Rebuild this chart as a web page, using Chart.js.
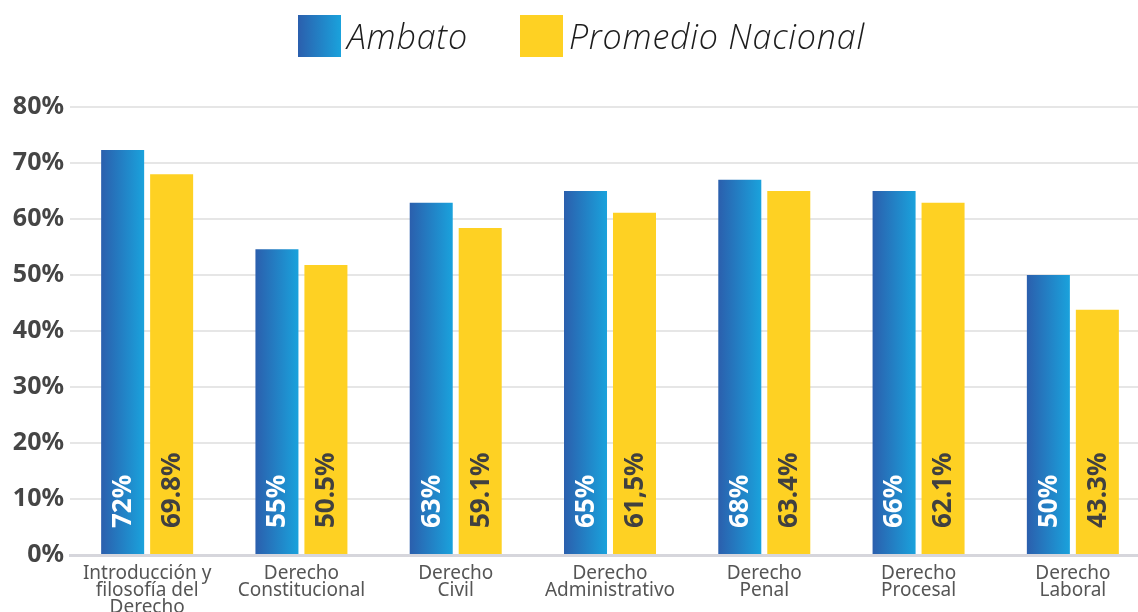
<!DOCTYPE html>
<html lang="es">
<head>
<meta charset="utf-8">
<title>Ambato vs Promedio Nacional</title>
<script src="https://cdn.jsdelivr.net/npm/chart.js@4.4.1/dist/chart.umd.min.js"></script>
<style>
  html, body { margin: 0; padding: 0; background: #fff; overflow: hidden; }
  #wrap { position: relative; width: 1138px; height: 612px; overflow: hidden; }
  #chart { position: absolute; left: 0; top: 0; }
  .legend { position: absolute; top: 15px; left: 298px; display: flex; align-items: center; }
  .legend-item { display: flex; align-items: center; margin-right: 52px; }
  .swatch { width: 43px; height: 42px; }
  .swatch.blue { background: linear-gradient(to right, #2b5fad, #1aa2dc); }
  .swatch.yellow { background: #fed123; }
  .legend-text {
    font-family: "Open Sans", sans-serif; font-style: italic; font-weight: 300;
    font-size: 34px; letter-spacing: 0.8px; color: #1c1c1c; margin-left: 6px; line-height: 42px;
  }
</style>
</head>
<body>
<div id="wrap">
  <canvas id="chart" width="1150" height="612"></canvas>
  <div class="legend">
    <div class="legend-item"><div class="swatch blue"></div><span class="legend-text">Ambato</span></div>
    <div class="legend-item"><div class="swatch yellow"></div><span class="legend-text">Promedio Nacional</span></div>
  </div>
</div>
<script>
  // Materias (eje X)
  const categories = [
    ['Introducción y', 'filosofía del', 'Derecho'],
    ['Derecho', 'Constitucional'],
    ['Derecho', 'Civil'],
    ['Derecho', 'Administrativo'],
    ['Derecho', 'Penal'],
    ['Derecho', 'Procesal'],
    ['Derecho', 'Laboral'],
  ];

  // Altura de las barras (%)
  const ambatoValues = [72.3, 54.6, 62.9, 65.0, 67.0, 65.0, 50.0];
  const nacionalValues = [68.0, 51.8, 58.4, 61.1, 65.0, 62.9, 43.8];

  // Etiquetas escritas sobre cada barra
  const ambatoLabels = ['72%', '55%', '63%', '65%', '68%', '66%', '50%'];
  const nacionalLabels = ['69.8%', '50.5%', '59.1%', '61,5%', '63.4%', '62.1%', '43.3%'];

  const yTicks = [0, 10, 20, 30, 40, 50, 60, 70, 80];

  const BLUE_LEFT = '#2b5fad';
  const BLUE_RIGHT = '#1aa2dc';
  const YELLOW = '#fed123';

  // Horizontal gradient per blue bar
  const barGradient = {
    id: 'barGradient',
    beforeDatasetsDraw(chart) {
      const ctx = chart.ctx;
      chart.getDatasetMeta(0).data.forEach(function (bar) {
        const left = bar.x - bar.width / 2;
        const right = bar.x + bar.width / 2;
        const g = ctx.createLinearGradient(left, 0, right, 0);
        g.addColorStop(0, BLUE_LEFT);
        g.addColorStop(1, BLUE_RIGHT);
        bar.options = Object.assign({}, bar.options, { backgroundColor: g });
      });
    },
  };

  // Vertical value labels inside bars
  const barLabels = {
    id: 'barLabels',
    afterDatasetsDraw(chart) {
      const ctx = chart.ctx;
      const sets = [
        { labels: ambatoLabels, color: '#ffffff' },
        { labels: nacionalLabels, color: '#404040' },
      ];
      sets.forEach(function (s, i) {
        chart.getDatasetMeta(i).data.forEach(function (bar, j) {
          ctx.save();
          ctx.translate(bar.x, bar.base - 26);
          ctx.rotate(-Math.PI / 2);
          ctx.font = 'bold 26px "Noto Sans", sans-serif';
          ctx.fillStyle = s.color;
          ctx.textAlign = 'left';
          ctx.textBaseline = 'middle';
          ctx.fillText(s.labels[j], 0, 1);
          ctx.restore();
        });
      });
    },
  };

  new Chart(document.getElementById('chart'), {
    type: 'bar',
    data: {
      labels: categories,
      datasets: [
        {
          label: 'Ambato',
          data: ambatoValues,
          backgroundColor: BLUE_RIGHT,
          categoryPercentage: 0.635,
          barPercentage: 0.878,
        },
        {
          label: 'Promedio Nacional',
          data: nacionalValues,
          backgroundColor: YELLOW,
          categoryPercentage: 0.635,
          barPercentage: 0.878,
        },
      ],
    },
    options: {
      responsive: false,
      animation: false,
      layout: { padding: { top: 107, left: 0, right: 0, bottom: 0 } },
      plugins: {
        legend: { display: false },
        tooltip: { enabled: false },
      },
      scales: {
        y: {
          min: 0,
          max: 80,
          afterFit: function (scale) { scale.width = 70; },
          afterBuildTicks: function (scale) {
            scale.ticks = yTicks.map(function (v) { return { value: v }; });
          },
          ticks: {
            padding: 6,
            color: '#454545',
            font: { family: '"Noto Sans", sans-serif', size: 25, weight: 'bold' },
            callback: function (v) { return v + '%'; },
          },
          grid: { color: '#e6e6e6', lineWidth: 2, drawTicks: false },
          border: { display: false },
        },
        x: {
          afterFit: function (scale) { scale.height = 57; },
          ticks: {
            padding: 10,
            color: '#555555',
            maxRotation: 0,
            autoSkip: false,
            font: { family: '"Noto Sans", sans-serif', size: 19, lineHeight: 0.9 },
          },
          grid: { display: false, drawTicks: false },
          border: { color: '#d6d6dc', width: 3 },
        },
      },
    },
    plugins: [barGradient, barLabels],
  });
</script>
</body>
</html>
